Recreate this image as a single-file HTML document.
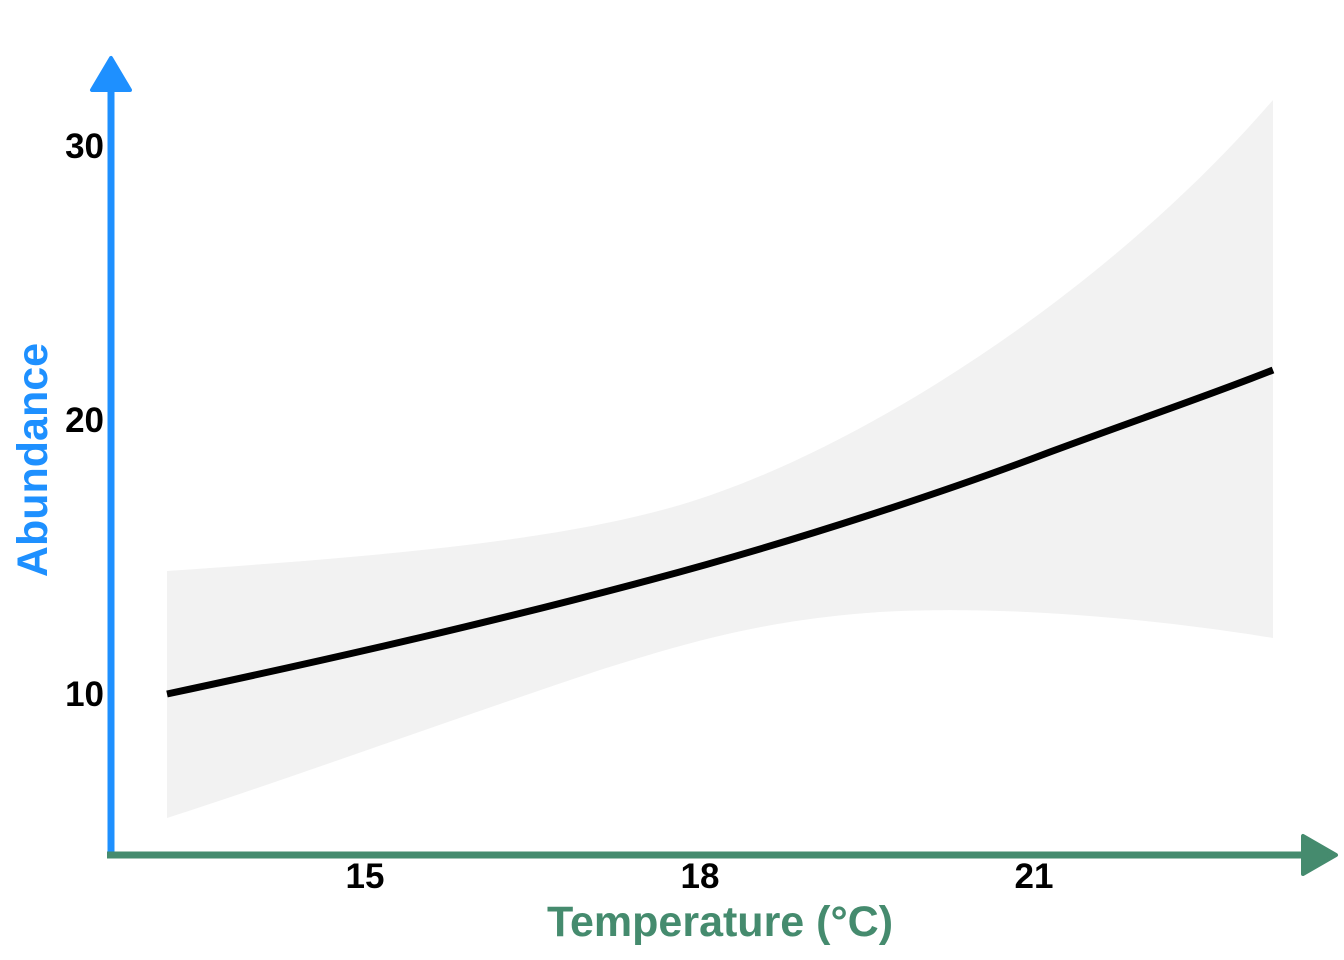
<!DOCTYPE html>
<html><head><meta charset="utf-8"><style>
html,body{margin:0;padding:0;background:#fff;}
svg{display:block;}
text{font-family:"Liberation Sans",Arial,sans-serif;font-weight:bold;}
</style></head><body>
<svg width="1344" height="960" viewBox="0 0 1344 960" xmlns="http://www.w3.org/2000/svg">
<path d="M167,571 C400,555 560,540 680,505 C850,455 1100,300 1273,100 L1273,638 C1150,618 1000,605 880,612 C760,620 680,645 600,670 C450,720 300,775 167,818 Z" fill="#f2f2f2"/>
<path d="M167,694 C350,655 500,620 650,580 C800,540 950,490 1050,452 C1150,415 1210,395 1273,370" fill="none" stroke="#000" stroke-width="7"/>
<line x1="111" y1="857" x2="111" y2="80" stroke="#1e90ff" stroke-width="7"/>
<polygon points="111,58 92,90 130,90" fill="#1e90ff" stroke="#1e90ff" stroke-width="4" stroke-linejoin="round"/>
<line x1="107" y1="855" x2="1310" y2="855" stroke="#458b6e" stroke-width="7"/>
<polygon points="1336,855 1303,836 1303,874" fill="#458b6e" stroke="#458b6e" stroke-width="4" stroke-linejoin="round"/>
<g font-size="35" fill="#000" text-anchor="end">
<text x="104" y="158">30</text>
<text x="104" y="432">20</text>
<text x="104" y="706">10</text>
</g>
<g font-size="35" fill="#000" text-anchor="middle">
<text x="365" y="888">15</text>
<text x="700" y="888">18</text>
<text x="1034" y="888">21</text>
</g>
<text x="720" y="936" font-size="43" fill="#458b6e" text-anchor="middle">Temperature (°C)</text>
<text transform="translate(47,460) rotate(-90)" font-size="43" fill="#1e90ff" text-anchor="middle">Abundance</text>
</svg>
</body></html>
